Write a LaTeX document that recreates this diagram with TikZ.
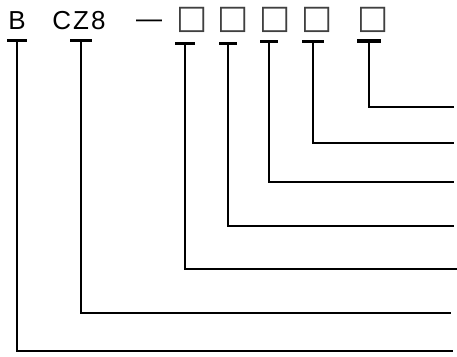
\documentclass[tikz,border=0pt]{standalone}
\usepackage{fontspec}
\setmainfont{Liberation Sans}[LetterSpace=8]
\newfontfamily\symfont{DejaVu Sans}
\begin{document}
\begin{tikzpicture}[x=1pt,y=-1pt,
  codetext/.style={inner sep=0pt,anchor=base,font=\fontsize{26pt}{26pt}\selectfont},
  sq/.style={inner sep=0pt,anchor=center,text=black!75,font=\symfont\fontsize{33pt}{33pt}\selectfont},
  lead/.style={line width=2.2pt,line cap=rect},
  tbar/.style={line width=3.2pt}]
\useasboundingbox (0,0) rectangle (457,356);
\node[codetext] (b) at (17,29.3) {B};
\node[codetext] (cz) at (79,29.3) {CZ8};
\node[codetext,anchor=center] (dash) at (149,23.3) {—};
\node[sq] (s1) at (192,19.5) {□};
\node[sq] (s2) at (233,19.5) {□};
\node[sq] (s3) at (275,19.5) {□};
\node[sq] (s4) at (317,19.5) {□};
\node[sq] (s5) at (373,19.5) {□};
% T points
\coordinate (tb) at (17,40.5);
\coordinate (tc) at (81,40.5);
\coordinate (t1) at (185,43.5);
\coordinate (t2) at (228,43.5);
\coordinate (t3) at (269,41.5);
\coordinate (t4) at (313,41.5);
\coordinate (t5) at (369,41);
% right ends
\coordinate (eb) at (452,351);
\coordinate (ec) at (450,312.7);
\coordinate (e1) at (456,269);
\coordinate (e2) at (453,225.7);
\coordinate (e3) at (453,181.7);
\coordinate (e4) at (453,142.7);
\coordinate (e5) at (453,106.7);
\foreach \t/\e/\w in {tb/eb/10, tc/ec/11, t1/e1/10, t2/e2/9, t3/e3/9, t4/e4/11, t5/e5/12}{
  \draw[tbar] ([xshift=-\w pt]\t) -- ([xshift=\w pt]\t);
  \draw[lead] (\t) |- (\e);
}
\end{tikzpicture}
\end{document}
